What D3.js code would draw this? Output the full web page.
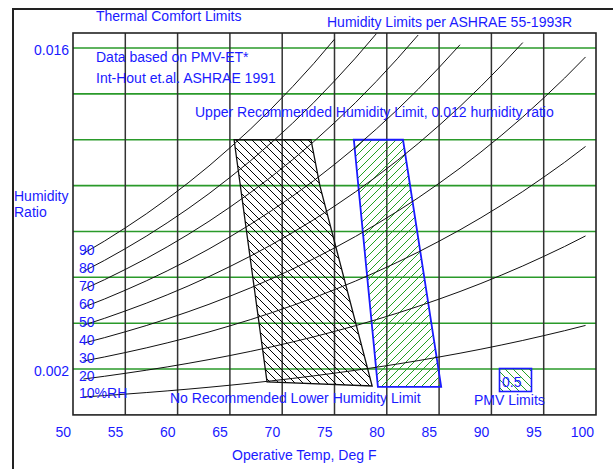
<!DOCTYPE html>
<html><head><meta charset="utf-8">
<script src="https://cdn.jsdelivr.net/npm/d3@7/dist/d3.min.js"></script>
<style>
body{margin:0;background:#fff}
svg{display:block}
text{font-family:"Liberation Sans",Arial,sans-serif;font-size:14px;fill:#1a1aff}
</style>
</head><body>
<svg id="c" width="613" height="469"></svg>
<script>
// Temperatures (deg F) at which the RH curves are plotted
const temps = [51,53,55,57,59,61,63,65,67,69,71,73,75,77,79,81,83,85,87,89,91,93,95,97,99];
// Humidity ratio x 1000 along each constant-RH curve
const rh10 = [0.782,0.842,0.906,0.974,1.047,1.124,1.206,1.294,1.387,1.486,1.591,1.702,1.821,1.945,2.078,2.218,2.367,2.525,2.690,2.866,3.052,3.247,3.456,3.672,3.902];
const rh20 = [1.564,1.684,1.813,1.948,2.093,2.248,2.412,2.588,2.773,2.971,3.181,3.403,3.641,3.890,4.156,4.437,4.734,5.050,5.381,5.733,6.104,6.495,6.911,7.344,7.805];
const rh30 = [2.347,2.526,2.719,2.922,3.140,3.372,3.618,3.883,4.160,4.457,4.772,5.105,5.462,5.835,6.234,6.655,7.100,7.575,8.071,8.599,9.156,9.742,10.367,11.016,11.707];
const rh40 = [3.129,3.368,3.625,3.896,4.187,4.496,4.824,5.177,5.546,5.942,6.362,6.807,7.282,7.780,8.312,8.874,9.467,10.100,10.761,11.465,12.208,12.990,13.822,14.688,15.610];
const rh50 = [3.911,4.210,4.532,4.870,5.234,5.620,6.031,6.471,6.933,7.428,7.953,8.509,9.103,9.725,10.390,11.092,11.834,12.625,13.452,14.332,15.260,16.237];
const rh60 = [4.693,5.052,5.438,5.844,6.280,6.744,7.237,7.765,8.320,8.914,9.544,10.210,10.924,11.670,12.467,13.310,14.201,15.150,16.142];
const rh70 = [5.475,5.894,6.344,6.818,7.327,7.868,8.443,9.059,9.706,10.399,11.134,11.912,12.744,13.615,14.545,15.529,16.568];
const rh80 = [6.258,6.736,7.250,7.792,8.374,8.992,9.649,10.354,11.093,11.885,12.725,13.614,14.565,15.560,16.623];
const rh90 = [7.040,7.578,8.157,8.766,9.420,10.116,10.855,11.648,12.479,13.370,14.315,15.315,16.385];
const rhLabels = ["10%RH","20","30","40","50","60","70","80","90"];

// Comfort zones (temp F, humidity ratio x 1000)
const winterTemps = [65.4,72.75,73.6,78.6,68.55];
const winterW     = [12.0,12.0,10.0,1.26,1.44];
const summerTemps = [76.85,81.55,85.2,79.15];
const summerW     = [12.0,12.0,1.22,1.22];

// Axes
const xTicks = [50,55,60,65,70,75,80,85,90,95,100];
const yGrid = [2,4,6,8,10,12,14,16];
const yTickValues = [16,2];
const yTickLabels = ["0.016","0.002"];

const svg = d3.select("#c");
const x = d3.scaleLinear().domain([50,100]).range([73,596]);
const y = d3.scaleLinear().domain([0,16.655]).range([414.9,33]);

const defs = svg.append("defs");
const green = "#2a9a2a";
function hatch(id, color, dir){
  const p = defs.append("pattern").attr("id",id).attr("patternUnits","userSpaceOnUse")
    .attr("width",8).attr("height",8);
  const d = dir==="back" ? "M0,0L8,8M-2,6L2,10M6,-2L10,2" : "M0,8L8,0M-2,2L2,-2M6,10L10,6";
  p.append("path").attr("d",d).attr("stroke",color).attr("stroke-width",1)
    .attr("fill","none").attr("shape-rendering","crispEdges");
}
hatch("hBlack","#000","back");
hatch("hGreen","#22a022","fwd");
hatch("hGreenBack","#22a022","back");

// outer frame
svg.append("line").attr("x1",13).attr("y1",469).attr("x2",13).attr("y2",9).attr("stroke","#222").attr("stroke-width",2);
svg.append("line").attr("x1",12).attr("y1",9).attr("x2",613).attr("y2",9).attr("stroke","#222").attr("stroke-width",2);

// grid
const g = svg.append("g");
g.selectAll(".hg").data(yGrid).enter().append("line")
  .attr("x1",x(50)).attr("x2",x(100)).attr("y1",d=>y(d)).attr("y2",d=>y(d))
  .attr("stroke",green).attr("stroke-width",1.6);
g.selectAll(".vg").data(xTicks.slice(1,-1)).enter().append("line")
  .attr("x1",d=>x(d)).attr("x2",d=>x(d)).attr("y1",y.range()[0]).attr("y2",y.range()[1])
  .attr("stroke","#333").attr("stroke-width",1.5);
g.append("rect").attr("x",x(50)).attr("y",y.range()[1]).attr("width",x(100)-x(50))
  .attr("height",y.range()[0]-y.range()[1]).attr("fill","none").attr("stroke","#222").attr("stroke-width",1.6);

// zones
const poly = (ts,ws)=> ts.map((t,i)=>[x(t),y(ws[i])].join(",")).join(" ");
svg.append("polygon").attr("points",poly(winterTemps,winterW))
  .attr("fill","url(#hBlack)").attr("stroke","#111").attr("stroke-width",1.3);
svg.append("polygon").attr("points",poly(summerTemps,summerW))
  .attr("fill","url(#hGreen)").attr("stroke","#1a1aff").attr("stroke-width",1.8);

// RH curves
const series = [rh10,rh20,rh30,rh40,rh50,rh60,rh70,rh80,rh90];
const line = d3.line().x(d=>x(d[0])).y(d=>y(d[1]));
svg.selectAll(".rh").data(series).enter().append("path")
  .attr("d",s=>line(s.map((v,i)=>[temps[i],v])))
  .attr("fill","none").attr("stroke","#111").attr("stroke-width",1);

// RH labels
svg.selectAll(".rhl").data(series).enter().append("text")
  .attr("x",79).attr("y",s=>y(s[0])+1.5).text((s,i)=>rhLabels[i]);

// x tick labels
svg.selectAll(".xt").data(xTicks).enter().append("text")
  .attr("x",d=>x(d)-2).attr("y",437).attr("text-anchor","end").text(d=>d);
// y tick labels
svg.selectAll(".yt").data(yTickValues).enter().append("text")
  .attr("x",69).attr("y",d=>y(d)+7).attr("text-anchor","end").text((d,i)=>yTickLabels[i]);

// annotations
const ann = [
  ["Thermal Comfort Limits",96,21],
  ["Humidity Limits per ASHRAE 55-1993R",327,27],
  ["Data based on PMV-ET*",96,62],
  ["Int-Hout et.al. ASHRAE 1991",96,83],
  ["Upper Recommended Humidity Limit, 0.012 humidity ratio",195,117],
  ["Humidity",14,201],
  ["Ratio",14,217],
  ["No Recommended Lower Humidity Limit",170,403],
  ["PMV Limits",474,405],
  ["Operative Temp, Deg F",232,460]
];
svg.selectAll(".ann").data(ann).enter().append("text")
  .attr("x",d=>d[1]).attr("y",d=>d[2]).text(d=>d[0]);

// PMV legend box
svg.append("rect").attr("x",499.5).attr("y",368.5).attr("width",32).attr("height",23)
  .attr("fill","url(#hGreenBack)").attr("stroke","#1a1aff").attr("stroke-width",1.6);
svg.append("text").attr("x",502).attr("y",387).text("0.5");
</script>
</body></html>
